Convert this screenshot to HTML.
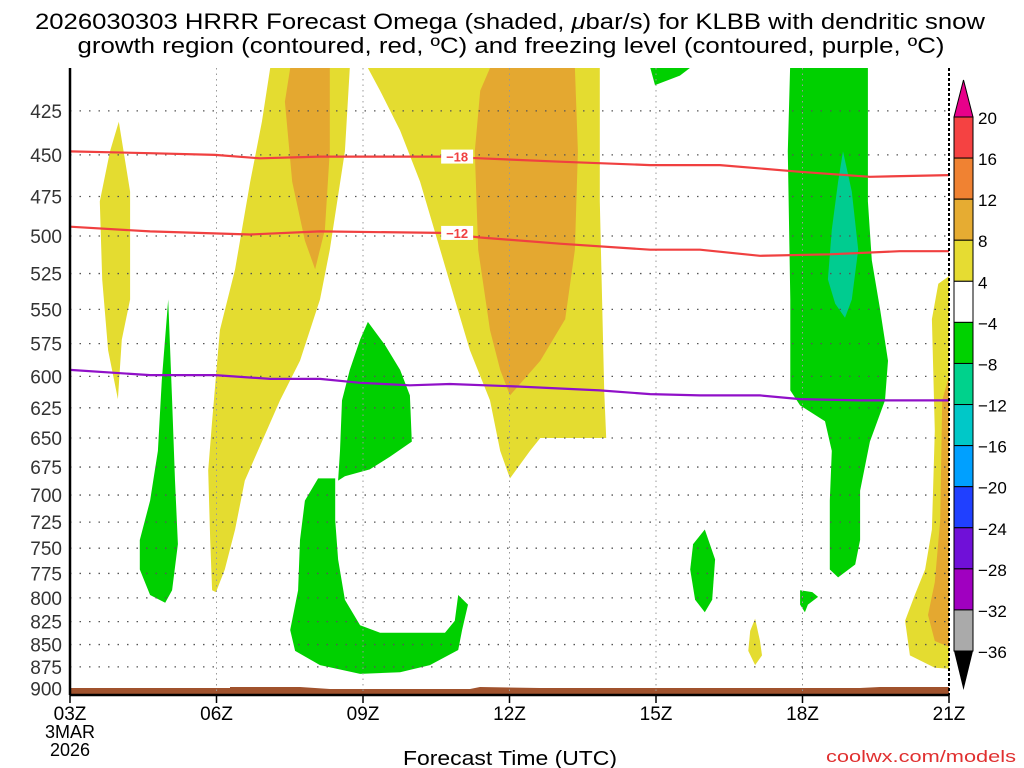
<!DOCTYPE html>
<html><head><meta charset="utf-8">
<style>
html,body{margin:0;padding:0;background:#fff;}
svg{display:block;font-family:"Liberation Sans",sans-serif;}
</style></head>
<body>
<svg id="chart" width="1024" height="768" viewBox="0 0 1024 768" xmlns="http://www.w3.org/2000/svg">
<text x="510" y="29" font-size="22" text-anchor="middle" textLength="950" lengthAdjust="spacingAndGlyphs" fill="#000">2026030303 HRRR Forecast Omega (shaded, <tspan font-style="italic">μ</tspan>bar/s) for KLBB with dendritic snow</text>
<text x="511" y="53" font-size="22" text-anchor="middle" textLength="867" lengthAdjust="spacingAndGlyphs" fill="#000">growth region (contoured, red, ºC) and freezing level (contoured, purple, ºC)</text>
<defs><clipPath id="plotclip"><rect x="70" y="68" width="879" height="627"/></clipPath></defs>
<g id="shades" clip-path="url(#plotclip)"></g>
<g id="grid"></g>
<g id="lines" clip-path="url(#plotclip)"></g>
<g id="axes"></g>
<g id="cbar"></g>
<text x="510" y="765" font-size="20" text-anchor="middle" textLength="214" lengthAdjust="spacingAndGlyphs">Forecast Time (UTC)</text>
<text x="1016" y="762" font-size="17" text-anchor="end" textLength="190" lengthAdjust="spacingAndGlyphs" fill="#e03030">coolwx.com/models</text>
</svg>
<script>
const pressureTicks=[425,450,475,500,525,550,575,600,625,650,675,700,725,750,775,800,825,850,875,900];
const hourTicks=[3,6,9,12,15,18,21];
const hourLabels=["03Z","06Z","09Z","12Z","15Z","18Z","21Z"];
const cbarLevels=[20,16,12,8,4,-4,-8,-12,-16,-20,-24,-28,-32,-36];
const cbarColors=["#f54242","#f08232","#e6ac32","#e6dc32","#ffffff","#00d200","#00d28c","#00c8c8","#00a0ff","#2040ff","#7010d8","#a000c0","#aaaaaa"];
const yellowA=[[3.61,478],[3.82,448],[4.00,431],[4.23,472],[4.23,543],[4.06,572],[3.98,618],[3.78,580],[3.66,529]];
const yellowB=[[7.10,402],[8.73,402],[8.63,448],[8.32,509],[8.12,543],[7.71,588],[7.30,619],[6.93,653],[6.58,687],[6.38,732],[6.17,771],[5.99,794],[5.91,792],[5.87,742],[5.83,678],[5.91,636],[6.07,565],[6.38,522],[6.69,466],[6.93,431]];
const orangeB=[[7.51,402],[8.32,402],[8.32,448],[8.22,496],[8.02,522],[7.81,503],[7.55,466],[7.40,420]];
const yellowC=[[9.10,402],[13.85,402],[13.85,478],[13.94,611],[13.98,650],[12.63,650],[12.42,661],[12.01,685],[11.81,661],[11.60,619],[11.19,580],[10.88,543],[10.58,509],[10.17,466],[9.76,436],[9.35,414]];
const orangeC=[[11.60,402],[13.34,402],[13.40,448],[13.34,509],[13.14,557],[12.63,588],[12.01,615],[11.81,595],[11.60,565],[11.36,509],[11.29,448],[11.40,414]];
const yellowD=[[21.2,522],[21.2,878],[20.71,876],[20.20,862],[20.10,824],[20.30,797],[20.51,771],[20.65,732],[20.71,644],[20.65,557],[20.78,532]];
const orangeD=[[21.2,572],[21.2,857],[20.71,846],[20.57,818],[20.71,784],[20.82,723],[20.86,619]];
const yellowE=[[17.03,822],[17.13,846],[17.17,862],[17.03,873],[16.89,857],[16.93,835]];
const greenA=[[5.01,543],[5.09,619],[5.15,687],[5.21,746],[5.09,792],[4.95,805],[4.64,797],[4.43,771],[4.43,742],[4.64,705],[4.80,661],[4.88,603]];
const greenB=[[9.10,559],[9.45,576],[9.76,595],[9.96,615],[10.00,653],[9.55,666],[9.14,677],[8.63,683],[8.49,687],[8.53,661],[8.57,619],[8.73,595],[8.94,572]];
const greenC=[[8.08,685],[8.43,685],[8.43,723],[8.49,761],[8.63,802],[8.94,829],[9.35,837],[10.68,837],[10.88,824],[10.95,797],[11.15,807],[11.03,834],[10.95,856],[10.37,873],[9.76,881],[8.94,883],[8.12,873],[7.61,857],[7.51,834],[7.67,792],[7.71,742],[7.81,705]];
const greenD=[[16.00,732],[16.21,761],[16.15,802],[16.00,815],[15.80,802],[15.70,771],[15.76,746]];
const greenE=[[17.95,792],[18.20,794],[18.32,799],[18.11,807],[18.05,815],[17.95,807]];
const greenF=[[17.75,398],[19.34,398],[19.34,478],[19.42,516],[19.59,550],[19.75,588],[19.69,619],[19.38,653],[19.18,696],[19.18,742],[19.08,766],[18.73,779],[18.56,771],[18.56,705],[18.60,661],[18.46,636],[17.95,623],[17.75,611],[17.75,543],[17.70,448]];
const greenG=[[14.84,398],[15.90,398],[15.49,406],[14.98,411]];
const tealF=[[18.83,448],[19.01,472],[19.14,509],[19.01,543],[18.87,556],[18.67,546],[18.52,529],[18.60,496],[18.73,466]];
const line18=[[3,448],[4.64,449],[5.97,450],[6.89,452],[8.12,451],[10.58,451],[11.40,452],[13.03,454],[14.88,456],[16.31,456],[17.95,460],[19.38,463],[21,462]];
const line12=[[3,494],[4.64,497],[6.69,499],[8.12,497],[10.58,498],[11.40,501],[13.03,505],[14.88,509],[15.90,509],[17.13,513],[18.56,512],[19.99,510],[21,510]];
const freezeLine=[[3,595],[4.64,599],[5.97,599],[7.10,602],[8.12,602],[8.94,605],[9.96,607],[10.78,606],[12.22,608],[13.85,611],[14.88,614],[15.90,615],[17.13,615],[17.95,618],[19.18,619],[21,619]];

const X0=70,X1=949;
function xs(h){return X0+(h-3)*(X1-X0)/18;}
function ys(p){return 236+770*Math.log(p/500);}
const NS="http://www.w3.org/2000/svg";
function mk(tag,parent,attrs){const e=document.createElementNS(NS,tag);for(const k in attrs)e.setAttribute(k,attrs[k]);parent.appendChild(e);return e;}
function pts(arr){return arr.map(d=>xs(d[0]).toFixed(1)+","+ys(d[1]).toFixed(1)).join(" ");}
const shades=document.getElementById('shades');
const polys=[[yellowA,"#e4dc30","yellow-area-1"],[yellowB,"#e4dc30","yellow-area-2"],[orangeB,"#e4a830","orange-area-2"],[yellowC,"#e4dc30","yellow-area-3"],[orangeC,"#e4a830","orange-area-3"],[yellowD,"#e4dc30","yellow-area-4"],[orangeD,"#e4a830","orange-area-4"],[yellowE,"#e4dc30","yellow-area-5"],[greenA,"#00d000","green-area-1"],[greenB,"#00d000","green-area-2"],[greenC,"#00d000","green-area-3"],[greenD,"#00d000","green-area-4"],[greenE,"#00d000","green-area-5"],[greenF,"#00d000","green-area-6"],[greenG,"#00d000","green-area-7"],[tealF,"#00cc90","teal-area-1"]];
polys.forEach(pp=>{const el=mk('polygon',shades,{points:pts(pp[0]),fill:pp[1]});

});
const terr=mk('path',shades,{d:"M70,688 L230,688 L230,687 L300,687 L330,689 L470,689 L480,687 L540,688 L860,688 L880,687 L949,687 L949,695 L70,695 Z",fill:"#a0522d"});


const grid=document.getElementById('grid');
pressureTicks.forEach(p=>{if(p===900)return;const g=mk('line',grid,{x1:X0,x2:X1,y1:ys(p),y2:ys(p),stroke:"#555","stroke-width":1.3,"stroke-dasharray":"1.5,8"});

});
hourTicks.forEach(h=>{if(h===3||h===21)return;const g=mk('line',grid,{x1:xs(h),x2:xs(h),y1:68,y2:695,stroke:"#999","stroke-width":1,"stroke-dasharray":"1.5,4"});

});
const lines=document.getElementById('lines');
[[line18,"#f04040","dgz-line-minus18"],[line12,"#f04040","dgz-line-minus12"],[freezeLine,"#9010c8","freezing-level-line"]].forEach(l=>{
const el=mk('polyline',lines,{points:pts(l[0]),fill:"none",stroke:l[1],"stroke-width":2.2});

});
[[451,"−18"],[498,"−12"]].forEach(d=>{
const r=mk('rect',lines,{x:xs(10.6),y:ys(d[0])-7,width:32,height:14,fill:"#ffffff"});


const t=mk('text',lines,{x:xs(10.6)+16,y:ys(d[0])+5,"font-size":13,"font-weight":"bold","text-anchor":"middle",fill:"#f04040"});
t.textContent=d[1];

});
const axes=document.getElementById('axes');
const la=mk('line',axes,{x1:X0,x2:X0,y1:68,y2:695,stroke:"#000","stroke-width":2.5});


const ra=mk('line',axes,{x1:X1,x2:X1,y1:68,y2:695,stroke:"#000","stroke-width":2,"stroke-dasharray":"3,2"});


const ba=mk('line',axes,{x1:X0,x2:X1,y1:695,y2:695,stroke:"#000","stroke-width":2.5});


pressureTicks.forEach(p=>{const t=mk('text',axes,{x:62,y:ys(p)+7,"font-size":19,"text-anchor":"end",fill:"#333"});t.textContent=p;

});
hourTicks.forEach((h,i)=>{const tk=mk('line',axes,{x1:xs(h),x2:xs(h),y1:695,y2:703,stroke:"#000","stroke-width":1.5});


const t=mk('text',axes,{x:xs(h),y:720,"font-size":19,"text-anchor":"middle"});t.textContent=hourLabels[i];

});
[["3MAR",738],["2026",756]].forEach(d=>{const t=mk('text',axes,{x:70,y:d[1],"font-size":18,"text-anchor":"middle"});t.textContent=d[0];

});
const cb=document.getElementById('cbar');
const cx=954,cw=19,cTop=117,step=(651-117)/13;
const tri=mk('polygon',cb,{points:`${cx},${cTop} ${cx+cw},${cTop} ${cx+cw/2},80`,fill:"#e8008a",stroke:"#000","stroke-width":1});


cbarColors.forEach((c,i)=>{const r=mk('rect',cb,{x:cx,y:cTop+i*step,width:cw,height:step,fill:c,stroke:"#000","stroke-width":1});

});
const tri2=mk('polygon',cb,{points:`${cx},651 ${cx+cw},651 ${cx+cw/2},690`,fill:"#000"});


cbarLevels.forEach((v,i)=>{const t=mk('text',cb,{x:978,y:cTop+i*step+7,"font-size":17});t.textContent=(v<0?"−"+(-v):v);

});
</script>
</body></html>
